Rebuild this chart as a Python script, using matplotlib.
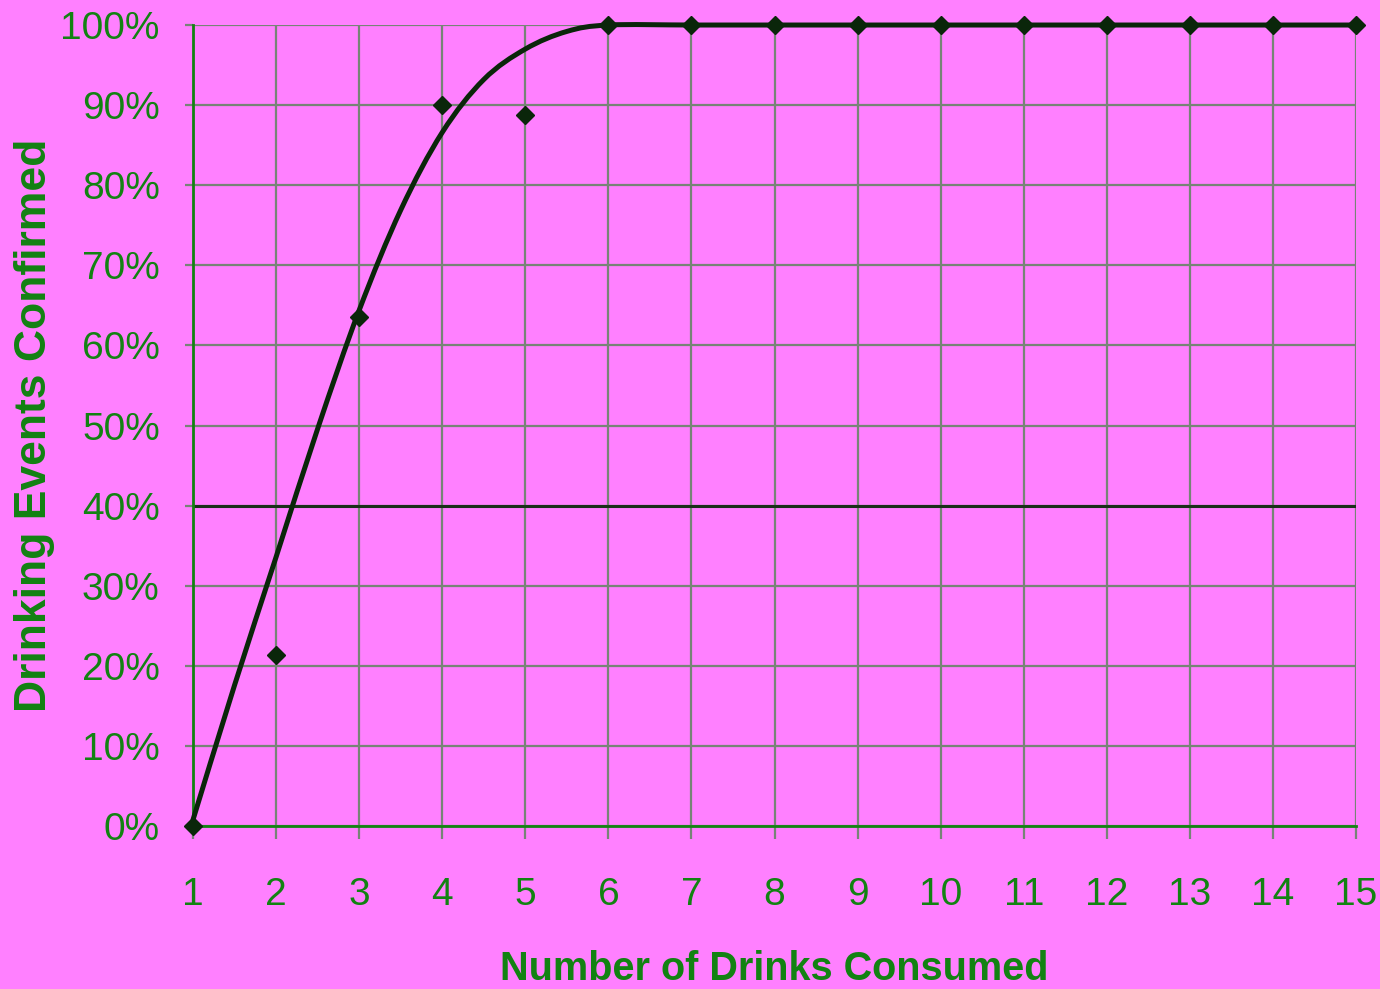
import numpy as np
from matplotlib import pyplot as plt
from matplotlib.path import Path
from matplotlib.patches import PathPatch
from matplotlib.ticker import PercentFormatter

BG = "#FF80FF"
GREEN = "#128212"
DARK = "#0A260A"
GRID = "#768476"

# observed points (number of drinks, share confirmed)
drinks = [1, 2, 3, 4, 5, 6, 7, 8, 9, 10, 11, 12, 13, 14, 15]
confirmed = [0.0, 0.213, 0.635, 0.90, 0.888, 1.0, 1.0, 1.0, 1.0, 1.0,
             1.0, 1.0, 1.0, 1.0, 1.0]

# smoothed fit line
fit_x = [1, 1.5, 2, 2.5, 3, 3.5, 4, 4.5, 5, 5.5, 6,
         7, 8, 9, 10, 11, 12, 13, 14, 15]
fit_y = [0.008, 0.176, 0.336, 0.496, 0.644, 0.769, 0.866, 0.932, 0.970,
         0.992, 1.0, 1.0, 1.0, 1.0, 1.0, 1.0, 1.0, 1.0, 1.0, 1.0]

x_ticks = list(range(1, 16))
y_ticks = [i / 10 for i in range(11)]
marked_level = 0.4


def smooth_path(xs, ys):
    '''Catmull-Rom style Bezier path through the points, like a
    spreadsheet "smoothed line".'''
    pts = np.column_stack([xs, ys]).astype(float)
    pad = np.vstack([pts[:1], pts, pts[-1:]])
    verts = [tuple(pts[0])]
    codes = [Path.MOVETO]
    for i in range(1, len(pad) - 2):
        p0, p1, p2, p3 = pad[i - 1], pad[i], pad[i + 1], pad[i + 2]
        c1 = p1 + (p2 - p0) / 6
        c2 = p2 - (p3 - p1) / 6
        verts += [tuple(c1), tuple(c2), tuple(p2)]
        codes += [Path.CURVE4] * 3
    return Path(verts, codes)


plt.rcParams['font.family'] = ['Liberation Sans', 'DejaVu Sans']

fig = plt.figure(figsize=(13.8, 9.89), dpi=100, facecolor=BG)
ax = fig.add_axes([0.1399, 0.1648, 0.8427, 0.8099], facecolor=BG)
ax.set_xlim(1, 15)
ax.set_ylim(0, 1)

ax.set_xticks(x_ticks)
ax.set_yticks(y_ticks)
ax.yaxis.set_major_formatter(PercentFormatter(1.0, decimals=0))
ax.grid(True, color=GRID, linewidth=1.6)
ax.axhline(marked_level, color="#1A2E1A", linewidth=2.2, zorder=2.5)

for side in ("top", "right"):
    ax.spines[side].set_visible(False)
for side in ("left", "bottom"):
    ax.spines[side].set_color(GREEN)
    ax.spines[side].set_linewidth(2)
    ax.spines[side].set_zorder(2.6)

ax.tick_params(axis="y", length=6, width=1.6, color=GRID, pad=18,
               labelsize=28, labelcolor=GREEN)
ax.tick_params(axis="x", length=9, width=1.6, color=GRID, pad=28,
               labelsize=28, labelcolor=GREEN)

ax.add_patch(PathPatch(smooth_path(fit_x, fit_y), facecolor="none",
                       edgecolor=DARK, linewidth=3.6, zorder=3,
                       clip_on=False, capstyle="round"))
ax.plot(drinks, confirmed, linestyle="none", marker="D", markersize=9.5,
        color=DARK, zorder=4, clip_on=False)

ax.set_xlabel("Number of Drinks Consumed", fontsize=28.5, fontweight="bold",
              color=GREEN, labelpad=26)
ax.set_ylabel("Drinking Events Confirmed", fontsize=32, fontweight="bold",
              color=GREEN, labelpad=4)

fig.savefig("out.png", dpi=100, facecolor=BG)
